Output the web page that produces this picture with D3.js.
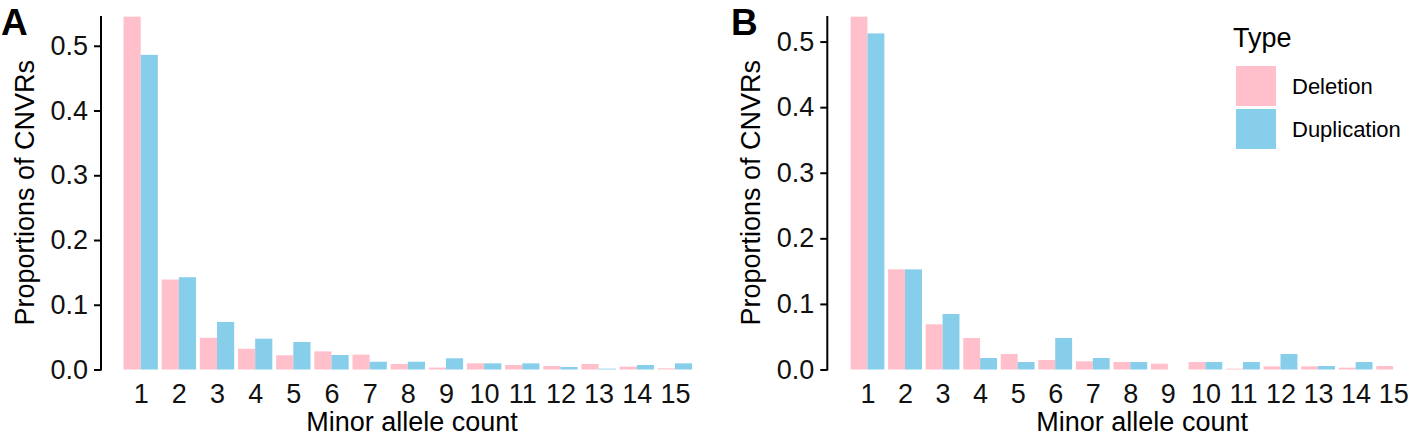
<!DOCTYPE html>
<html>
<head>
<meta charset="utf-8">
<script src="https://cdn.jsdelivr.net/npm/d3@7"></script>
<style>
  body { margin: 0; background: #fff; }
  svg { display: block; font-family: 'Liberation Sans', Arial, Helvetica, sans-serif; }
</style>
</head>
<body>
<div id="chart"></div>
<script>
// minor allele count categories
const counts = [1, 2, 3, 4, 5, 6, 7, 8, 9, 10, 11, 12, 13, 14, 15]
const yTicks = [0, 0.1, 0.2, 0.3, 0.4, 0.5]
const types = ['Deletion', 'Duplication']

// panel A
const deletionA = [0.545, 0.139, 0.049, 0.032, 0.022, 0.028, 0.023, 0.0085, 0.003, 0.0095, 0.007, 0.0054, 0.0085, 0.0044, 0.0018]
const duplicationA = [0.486, 0.1425, 0.0734, 0.0476, 0.0425, 0.0224, 0.012, 0.012, 0.0173, 0.0095, 0.0095, 0.0039, 0.0013, 0.007, 0.0095]

// panel B
const deletionB = [0.538, 0.1527, 0.0689, 0.048, 0.0236, 0.0145, 0.0125, 0.0114, 0.0089, 0.0114, 0.0013, 0.0048, 0.0048, 0.0028, 0.0053]
const duplicationB = [0.5125, 0.1527, 0.0846, 0.0175, 0.0114, 0.048, 0.0175, 0.0114, 0, 0.0114, 0.0114, 0.0236, 0.0053, 0.0114, 0]

const colors = { Deletion: '#FFC0CB', Duplication: '#87CEEB' }

const width = 1418
const height = 439
const fontSize = 27

const svg = d3
  .select('#chart')
  .append('svg')
  .attr('width', width)
  .attr('height', height)

function drawPanel(p) {
  const x = d3.scaleLinear().domain(p.xDomain).range([p.left, p.right])
  const y = d3.scaleLinear().domain([0, p.yMax]).range([p.bottom, p.top])
  const barW = 0.45

  const g = svg.append('g')

  const rows = []
  counts.forEach((c, i) => {
    rows.push({ count: c, type: 'Deletion', value: p.del[i] })
    rows.push({ count: c, type: 'Duplication', value: p.dup[i] })
  })

  g.selectAll('.bar')
    .data(rows.filter(d => d.value > 0))
    .enter()
    .append('rect')
    .attr('class', 'bar')
    .attr('x', d => (d.type === 'Deletion' ? x(d.count - barW) : x(d.count)))
    .attr('width', d => x(d.count + barW) - x(d.count))
    .attr('y', d => y(d.value))
    .attr('height', d => y(0) - y(d.value))
    .attr('fill', d => colors[d.type])

  // y axis
  const yAxis = d3
    .axisLeft(y)
    .tickValues(yTicks)
    .tickFormat(d3.format('.1f'))
    .tickSize(7)
    .tickPadding(6)
  const ya = g
    .append('g')
    .attr('transform', 'translate(' + p.left + ',0)')
    .call(yAxis)
  ya.select('.domain').attr('stroke', '#000').attr('stroke-width', 2)
    .attr('d', 'M0,' + p.top + 'V' + (p.bottom + 1))
  ya.selectAll('line').attr('stroke', '#000').attr('stroke-width', 2)
  ya.selectAll('text')
    .attr('font-size', fontSize)
    .attr('fill', '#111')
    .attr('font-family', null)

  // x labels
  const xAxis = d3.axisBottom(x).tickValues(counts).tickSize(0).tickPadding(0)
  const xa = g
    .append('g')
    .attr('transform', 'translate(0,' + p.bottom + ')')
    .call(xAxis)
  xa.select('.domain').remove()
  xa.selectAll('text')
    .attr('font-size', fontSize)
    .attr('fill', '#111')
    .attr('font-family', null)
    .attr('y', 33.5)
    .attr('dy', null)

  // titles
  g.append('text')
    .attr('x', (p.left + p.right) / 2)
    .attr('y', 431)
    .attr('text-anchor', 'middle')
    .attr('font-size', fontSize)
    .text('Minor allele count')

  g.append('text')
    .attr('transform', 'translate(' + (p.left - 67) + ',' + (p.top + p.bottom) / 2 + ') rotate(-90)')
    .attr('text-anchor', 'middle')
    .attr('font-size', fontSize)
    .text('Proportions of CNVRs')

  g.append('text')
    .attr('x', p.tagX)
    .attr('y', 35)
    .attr('font-size', 37)
    .attr('font-weight', 'bold')
    .text(p.tag)
}

drawPanel({
  tag: 'A', tagX: 1,
  del: deletionA, dup: duplicationA,
  left: 101, right: 723, top: 16, bottom: 369.5,
  xDomain: [-0.04, 16.26], yMax: 0.546
})

drawPanel({
  tag: 'B', tagX: 731,
  del: deletionB, dup: duplicationB,
  left: 827.3, right: 1457, top: 16, bottom: 369.5,
  xDomain: [-0.07, 16.7], yMax: 0.539
})

// legend
const legend = svg.append('g').attr('transform', 'translate(1233,0)')
legend.append('text').attr('x', 0).attr('y', 47).attr('font-size', fontSize).text('Type')
const keys = legend
  .selectAll('.key')
  .data(types)
  .enter()
  .append('g')
  .attr('class', 'key')
  .attr('transform', (d, i) => 'translate(3,' + (66 + i * 43) + ')')
keys.append('rect')
  .attr('width', 40)
  .attr('height', 40)
  .attr('fill', d => colors[d])
keys.append('text')
  .attr('x', 56)
  .attr('y', 20)
  .attr('dy', '0.36em')
  .attr('font-size', 22)
  .text(d => d)
</script>
</body>
</html>
